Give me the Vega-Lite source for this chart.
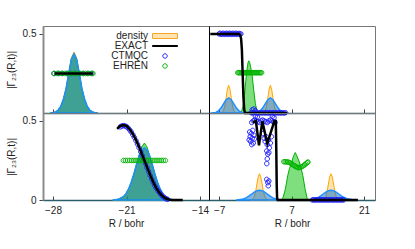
{
"$schema":"https://vega.github.io/schema/vega-lite/v6.json",
"background":"white",
"padding":{"left":5,"top":25,"right":5,"bottom":5},
"datasets":{
"tl":[
{"s":"o","x":-28.25,"y":0},{"s":"o","x":-28,"y":0.002},{"s":"o","x":-27.75,"y":0.007},{"s":"o","x":-27.5,"y":0.019},{"s":"o","x":-27.25,"y":0.044},{"s":"o","x":-27,"y":0.089},{"s":"o","x":-26.75,"y":0.157},{"s":"o","x":-26.5,"y":0.255},{"s":"o","x":-26.25,"y":0.348},{"s":"o","x":-26,"y":0.385},{"s":"o","x":-25.75,"y":0.348},{"s":"o","x":-25.5,"y":0.255},{"s":"o","x":-25.25,"y":0.157},{"s":"o","x":-25,"y":0.089},{"s":"o","x":-24.75,"y":0.044},{"s":"o","x":-24.5,"y":0.019},{"s":"o","x":-24.25,"y":0.007},{"s":"o","x":-24,"y":0.002},{"s":"o","x":-23.75,"y":0},
{"s":"g","x":-28.25,"y":0},{"s":"g","x":-28,"y":0.002},{"s":"g","x":-27.75,"y":0.007},{"s":"g","x":-27.5,"y":0.019},{"s":"g","x":-27.25,"y":0.044},{"s":"g","x":-27,"y":0.088},{"s":"g","x":-26.75,"y":0.155},{"s":"g","x":-26.5,"y":0.25},{"s":"g","x":-26.25,"y":0.34},{"s":"g","x":-26,"y":0.375},{"s":"g","x":-25.75,"y":0.34},{"s":"g","x":-25.5,"y":0.25},{"s":"g","x":-25.25,"y":0.155},{"s":"g","x":-25,"y":0.088},{"s":"g","x":-24.75,"y":0.044},{"s":"g","x":-24.5,"y":0.019},{"s":"g","x":-24.25,"y":0.007},{"s":"g","x":-24,"y":0.002},{"s":"g","x":-23.75,"y":0},
{"s":"b","x":-28.25,"y":0},{"s":"b","x":-28,"y":0.002},{"s":"b","x":-27.75,"y":0.007},{"s":"b","x":-27.5,"y":0.019},{"s":"b","x":-27.25,"y":0.044},{"s":"b","x":-27,"y":0.088},{"s":"b","x":-26.75,"y":0.155},{"s":"b","x":-26.5,"y":0.25},{"s":"b","x":-26.25,"y":0.34},{"s":"b","x":-26,"y":0.375},{"s":"b","x":-25.75,"y":0.34},{"s":"b","x":-25.5,"y":0.25},{"s":"b","x":-25.25,"y":0.155},{"s":"b","x":-25,"y":0.088},{"s":"b","x":-24.75,"y":0.044},{"s":"b","x":-24.5,"y":0.019},{"s":"b","x":-24.25,"y":0.007},{"s":"b","x":-24,"y":0.002},{"s":"b","x":-23.75,"y":0},
{"s":"CTMQC","x":-27.9,"y":0.25},{"s":"CTMQC","x":-27.5,"y":0.25},{"s":"CTMQC","x":-27.1,"y":0.25},{"s":"CTMQC","x":-26.7,"y":0.25},{"s":"CTMQC","x":-26.3,"y":0.25},{"s":"CTMQC","x":-25.9,"y":0.25},{"s":"CTMQC","x":-25.5,"y":0.25},{"s":"CTMQC","x":-25.1,"y":0.25},{"s":"CTMQC","x":-24.7,"y":0.25},{"s":"CTMQC","x":-24.3,"y":0.25},
{"s":"EHREN","x":-27.9,"y":0.25},{"s":"EHREN","x":-27.65,"y":0.25},{"s":"EHREN","x":-27.4,"y":0.25},{"s":"EHREN","x":-27.15,"y":0.25},{"s":"EHREN","x":-26.9,"y":0.25},{"s":"EHREN","x":-26.65,"y":0.25},{"s":"EHREN","x":-26.4,"y":0.25},{"s":"EHREN","x":-26.15,"y":0.25},{"s":"EHREN","x":-25.9,"y":0.25},{"s":"EHREN","x":-25.65,"y":0.25},{"s":"EHREN","x":-25.4,"y":0.25},{"s":"EHREN","x":-25.15,"y":0.25},{"s":"EHREN","x":-24.9,"y":0.25},{"s":"EHREN","x":-24.65,"y":0.25},{"s":"EHREN","x":-24.4,"y":0.25},{"s":"EHREN","x":-24.2,"y":0.25},
{"s":"EXACT","x":-27.85,"y":0.25},{"s":"EXACT","x":-24.2,"y":0.25}
],
"tr":[
{"s":"o","x":-6.65,"y":0},{"s":"o","x":-6.4,"y":0.004},{"s":"o","x":-6.15,"y":0.015},{"s":"o","x":-5.9,"y":0.044},{"s":"o","x":-5.65,"y":0.094},{"s":"o","x":-5.4,"y":0.15},{"s":"o","x":-5.15,"y":0.175},{"s":"o","x":-4.9,"y":0.15},{"s":"o","x":-4.65,"y":0.094},{"s":"o","x":-4.4,"y":0.044},{"s":"o","x":-4.15,"y":0.015},{"s":"o","x":-3.9,"y":0.004},{"s":"o","x":-3.65,"y":0},{"s":"o","x":1.4,"y":0},{"s":"o","x":1.65,"y":0.004},{"s":"o","x":1.9,"y":0.015},{"s":"o","x":2.15,"y":0.044},{"s":"o","x":2.4,"y":0.094},{"s":"o","x":2.65,"y":0.15},{"s":"o","x":2.9,"y":0.175},{"s":"o","x":3.15,"y":0.15},{"s":"o","x":3.4,"y":0.094},{"s":"o","x":3.65,"y":0.044},{"s":"o","x":3.9,"y":0.015},{"s":"o","x":4.15,"y":0.004},{"s":"o","x":4.4,"y":0},
{"s":"g","x":-2.75,"y":0},{"s":"g","x":-2.4,"y":0.04},{"s":"g","x":-2.1,"y":0.11},{"s":"g","x":-1.85,"y":0.2},{"s":"g","x":-1.6,"y":0.28},{"s":"g","x":-1.4,"y":0.32},{"s":"g","x":-1.27,"y":0.33},{"s":"g","x":-1.1,"y":0.32},{"s":"g","x":-0.9,"y":0.29},{"s":"g","x":-0.63,"y":0.24},{"s":"g","x":-0.3,"y":0.14},{"s":"g","x":0,"y":0.06},{"s":"g","x":0.4,"y":0},
{"s":"b","x":-8.65,"y":0},{"s":"b","x":-8.15,"y":0.001},{"s":"b","x":-7.65,"y":0.004},{"s":"b","x":-7.15,"y":0.013},{"s":"b","x":-6.65,"y":0.031},{"s":"b","x":-6.15,"y":0.058},{"s":"b","x":-5.65,"y":0.084},{"s":"b","x":-5.15,"y":0.095},{"s":"b","x":-4.65,"y":0.084},{"s":"b","x":-4.15,"y":0.058},{"s":"b","x":-3.65,"y":0.031},{"s":"b","x":-3.15,"y":0.013},{"s":"b","x":-2.65,"y":0.004},{"s":"b","x":-2.15,"y":0.001},{"s":"b","x":-1.65,"y":0},{"s":"b","x":-0.6,"y":0},{"s":"b","x":-0.1,"y":0.001},{"s":"b","x":0.4,"y":0.004},{"s":"b","x":0.9,"y":0.013},{"s":"b","x":1.4,"y":0.031},{"s":"b","x":1.9,"y":0.058},{"s":"b","x":2.4,"y":0.084},{"s":"b","x":2.9,"y":0.095},{"s":"b","x":3.4,"y":0.084},{"s":"b","x":3.9,"y":0.058},{"s":"b","x":4.4,"y":0.031},{"s":"b","x":4.9,"y":0.013},{"s":"b","x":5.4,"y":0.004},{"s":"b","x":5.9,"y":0.001},{"s":"b","x":6.4,"y":0},
{"s":"CTMQC","x":-7.0,"y":0.5},{"s":"CTMQC","x":-6.8,"y":0.504},{"s":"CTMQC","x":-6.6,"y":0.497},{"s":"CTMQC","x":-6.4,"y":0.5},{"s":"CTMQC","x":-6.2,"y":0.504},{"s":"CTMQC","x":-6.0,"y":0.497},{"s":"CTMQC","x":-5.8,"y":0.5},{"s":"CTMQC","x":-5.6,"y":0.504},{"s":"CTMQC","x":-5.4,"y":0.497},{"s":"CTMQC","x":-5.2,"y":0.5},{"s":"CTMQC","x":-5.0,"y":0.504},{"s":"CTMQC","x":-4.8,"y":0.497},{"s":"CTMQC","x":-4.6,"y":0.5},{"s":"CTMQC","x":-4.4,"y":0.504},{"s":"CTMQC","x":-4.2,"y":0.497},{"s":"CTMQC","x":-4.0,"y":0.5},{"s":"CTMQC","x":-3.8,"y":0.504},{"s":"CTMQC","x":-3.6,"y":0.497},{"s":"CTMQC","x":-3.4,"y":0.5},{"s":"CTMQC","x":-3.2,"y":0.503},{"s":"CTMQC","x":-3.0,"y":0.498},{"s":"CTMQC","x":-2.8,"y":0.5},
{"s":"CTMQC","x":-0.6,"y":0.02},{"s":"CTMQC","x":-0.3,"y":0.025},{"s":"CTMQC","x":0,"y":0.015},
{"s":"CTMQC","x":-0.8,"y":0.002},{"s":"CTMQC","x":-0.5,"y":0},{"s":"CTMQC","x":-0.2,"y":0.003},{"s":"CTMQC","x":0.1,"y":0},{"s":"CTMQC","x":0.4,"y":0.002},{"s":"CTMQC","x":0.7,"y":0},{"s":"CTMQC","x":1.0,"y":0.002},{"s":"CTMQC","x":1.3,"y":0},{"s":"CTMQC","x":1.6,"y":0.002},{"s":"CTMQC","x":1.9,"y":0},{"s":"CTMQC","x":2.2,"y":0.002},{"s":"CTMQC","x":2.5,"y":0},{"s":"CTMQC","x":2.8,"y":0.002},{"s":"CTMQC","x":3.1,"y":0},{"s":"CTMQC","x":3.4,"y":0.002},{"s":"CTMQC","x":3.7,"y":0},{"s":"CTMQC","x":4.0,"y":0.002},{"s":"CTMQC","x":4.3,"y":0},{"s":"CTMQC","x":4.6,"y":0.002},{"s":"CTMQC","x":4.9,"y":0},{"s":"CTMQC","x":5.2,"y":0.002},{"s":"CTMQC","x":5.5,"y":0},{"s":"CTMQC","x":5.8,"y":0.002},
{"s":"EHREN","x":-3.4,"y":0.255},{"s":"EHREN","x":-3.2,"y":0.255},{"s":"EHREN","x":-3.0,"y":0.255},{"s":"EHREN","x":-2.8,"y":0.255},{"s":"EHREN","x":-2.6,"y":0.255},{"s":"EHREN","x":-2.4,"y":0.255},{"s":"EHREN","x":-2.2,"y":0.255},{"s":"EHREN","x":-2.0,"y":0.255},{"s":"EHREN","x":-1.8,"y":0.255},{"s":"EHREN","x":-1.6,"y":0.255},{"s":"EHREN","x":-1.4,"y":0.255},{"s":"EHREN","x":-1.2,"y":0.255},{"s":"EHREN","x":-1.0,"y":0.255},{"s":"EHREN","x":-0.8,"y":0.255},{"s":"EHREN","x":-0.6,"y":0.255},{"s":"EHREN","x":-0.4,"y":0.255},{"s":"EHREN","x":-0.2,"y":0.255},{"s":"EHREN","x":0,"y":0.255},{"s":"EHREN","x":0.2,"y":0.255},{"s":"EHREN","x":0.4,"y":0.255},{"s":"EHREN","x":0.6,"y":0.255},{"s":"EHREN","x":0.8,"y":0.255},{"s":"EHREN","x":1.0,"y":0.255},{"s":"EHREN","x":1.2,"y":0.255},
{"s":"EXACT","x":-8.7,"y":0.5},{"s":"EXACT","x":-3.2,"y":0.5},{"s":"EXACT","x":-2.95,"y":0.495},{"s":"EXACT","x":-2.75,"y":0.47},{"s":"EXACT","x":-2.6,"y":0.4},{"s":"EXACT","x":-2.45,"y":0.25},{"s":"EXACT","x":-2.3,"y":0.1},{"s":"EXACT","x":-2.15,"y":0.02},{"s":"EXACT","x":-2.0,"y":0},{"s":"EXACT","x":6.1,"y":0}
],
"bl":[
{"s":"o","x":-22.3,"y":0},{"s":"o","x":-21.8,"y":0.004},{"s":"o","x":-21.3,"y":0.02},{"s":"o","x":-21.05,"y":0.039},{"s":"o","x":-20.8,"y":0.069},{"s":"o","x":-20.55,"y":0.11},{"s":"o","x":-20.3,"y":0.162},{"s":"o","x":-20.05,"y":0.22},{"s":"o","x":-19.8,"y":0.273},{"s":"o","x":-19.55,"y":0.31},{"s":"o","x":-19.3,"y":0.325},{"s":"o","x":-19.05,"y":0.31},{"s":"o","x":-18.8,"y":0.273},{"s":"o","x":-18.55,"y":0.22},{"s":"o","x":-18.3,"y":0.162},{"s":"o","x":-18.05,"y":0.11},{"s":"o","x":-17.8,"y":0.069},{"s":"o","x":-17.55,"y":0.039},{"s":"o","x":-17.3,"y":0.02},{"s":"o","x":-16.8,"y":0.004},{"s":"o","x":-16.3,"y":0},
{"s":"g","x":-22.3,"y":0},{"s":"g","x":-21.8,"y":0.004},{"s":"g","x":-21.3,"y":0.021},{"s":"g","x":-21.05,"y":0.04},{"s":"g","x":-20.8,"y":0.07},{"s":"g","x":-20.55,"y":0.112},{"s":"g","x":-20.3,"y":0.165},{"s":"g","x":-20.05,"y":0.224},{"s":"g","x":-19.8,"y":0.285},{"s":"g","x":-19.55,"y":0.335},{"s":"g","x":-19.3,"y":0.36},{"s":"g","x":-19.05,"y":0.335},{"s":"g","x":-18.8,"y":0.28},{"s":"g","x":-18.55,"y":0.224},{"s":"g","x":-18.3,"y":0.165},{"s":"g","x":-18.05,"y":0.112},{"s":"g","x":-17.8,"y":0.07},{"s":"g","x":-17.55,"y":0.04},{"s":"g","x":-17.3,"y":0.021},{"s":"g","x":-16.8,"y":0.004},{"s":"g","x":-16.3,"y":0},
{"s":"b","x":-22.3,"y":0},{"s":"b","x":-21.8,"y":0.004},{"s":"b","x":-21.3,"y":0.021},{"s":"b","x":-21.05,"y":0.04},{"s":"b","x":-20.8,"y":0.07},{"s":"b","x":-20.55,"y":0.112},{"s":"b","x":-20.3,"y":0.165},{"s":"b","x":-20.05,"y":0.224},{"s":"b","x":-19.8,"y":0.278},{"s":"b","x":-19.55,"y":0.316},{"s":"b","x":-19.3,"y":0.33},{"s":"b","x":-19.05,"y":0.316},{"s":"b","x":-18.8,"y":0.278},{"s":"b","x":-18.55,"y":0.224},{"s":"b","x":-18.3,"y":0.165},{"s":"b","x":-18.05,"y":0.112},{"s":"b","x":-17.8,"y":0.07},{"s":"b","x":-17.55,"y":0.04},{"s":"b","x":-17.3,"y":0.021},{"s":"b","x":-16.8,"y":0.004},{"s":"b","x":-16.3,"y":0},
{"s":"CTMQC","x":-21.6,"y":0.462},{"s":"CTMQC","x":-21.45,"y":0.468},{"s":"CTMQC","x":-21.3,"y":0.47},{"s":"CTMQC","x":-21.15,"y":0.468},{"s":"CTMQC","x":-21.0,"y":0.464},{"s":"CTMQC","x":-20.85,"y":0.455},{"s":"CTMQC","x":-20.7,"y":0.443},{"s":"CTMQC","x":-20.55,"y":0.43},{"s":"CTMQC","x":-20.4,"y":0.413},{"s":"CTMQC","x":-20.25,"y":0.395},{"s":"CTMQC","x":-20.1,"y":0.375},{"s":"CTMQC","x":-19.95,"y":0.353},{"s":"CTMQC","x":-19.8,"y":0.33},{"s":"CTMQC","x":-19.65,"y":0.305},{"s":"CTMQC","x":-19.5,"y":0.28},{"s":"CTMQC","x":-19.35,"y":0.255},{"s":"CTMQC","x":-19.2,"y":0.232},{"s":"CTMQC","x":-19.05,"y":0.205},{"s":"CTMQC","x":-18.9,"y":0.18},{"s":"CTMQC","x":-18.75,"y":0.155},{"s":"CTMQC","x":-18.6,"y":0.132},{"s":"CTMQC","x":-18.45,"y":0.11},{"s":"CTMQC","x":-18.3,"y":0.09},{"s":"CTMQC","x":-18.15,"y":0.073},{"s":"CTMQC","x":-18.0,"y":0.058},{"s":"CTMQC","x":-17.85,"y":0.045},{"s":"CTMQC","x":-17.7,"y":0.033},{"s":"CTMQC","x":-17.55,"y":0.023},{"s":"CTMQC","x":-17.4,"y":0.015},{"s":"CTMQC","x":-17.25,"y":0.008},{"s":"CTMQC","x":-17.1,"y":0.004},
{"s":"EHREN","x":-21.3,"y":0.25},{"s":"EHREN","x":-21.1,"y":0.25},{"s":"EHREN","x":-20.9,"y":0.25},{"s":"EHREN","x":-20.7,"y":0.25},{"s":"EHREN","x":-20.5,"y":0.25},{"s":"EHREN","x":-20.3,"y":0.25},{"s":"EHREN","x":-20.1,"y":0.25},{"s":"EHREN","x":-19.9,"y":0.25},{"s":"EHREN","x":-19.7,"y":0.25},{"s":"EHREN","x":-19.5,"y":0.25},{"s":"EHREN","x":-19.3,"y":0.25},{"s":"EHREN","x":-19.1,"y":0.25},{"s":"EHREN","x":-18.9,"y":0.25},{"s":"EHREN","x":-18.7,"y":0.25},{"s":"EHREN","x":-18.5,"y":0.25},{"s":"EHREN","x":-18.3,"y":0.25},{"s":"EHREN","x":-18.1,"y":0.25},{"s":"EHREN","x":-17.9,"y":0.25},{"s":"EHREN","x":-17.7,"y":0.25},{"s":"EHREN","x":-17.5,"y":0.25},{"s":"EHREN","x":-17.3,"y":0.25},
{"s":"EXACT","x":-21.9,"y":0.45},{"s":"EXACT","x":-21.6,"y":0.468},{"s":"EXACT","x":-21.3,"y":0.474},{"s":"EXACT","x":-21.0,"y":0.468},{"s":"EXACT","x":-20.7,"y":0.447},{"s":"EXACT","x":-20.4,"y":0.418},{"s":"EXACT","x":-20.1,"y":0.38},{"s":"EXACT","x":-19.8,"y":0.335},{"s":"EXACT","x":-19.5,"y":0.285},{"s":"EXACT","x":-19.3,"y":0.25},{"s":"EXACT","x":-19.0,"y":0.2},{"s":"EXACT","x":-18.7,"y":0.15},{"s":"EXACT","x":-18.4,"y":0.105},{"s":"EXACT","x":-18.1,"y":0.068},{"s":"EXACT","x":-17.8,"y":0.04},{"s":"EXACT","x":-17.5,"y":0.02},{"s":"EXACT","x":-17.2,"y":0.008},{"s":"EXACT","x":-16.9,"y":0.002},{"s":"EXACT","x":-16.6,"y":0},{"s":"EXACT","x":-15.65,"y":0}
],
"br":[
{"s":"o","x":-0.95,"y":0},{"s":"o","x":-0.7,"y":0.002},{"s":"o","x":-0.45,"y":0.007},{"s":"o","x":-0.2,"y":0.022},{"s":"o","x":0.05,"y":0.054},{"s":"o","x":0.3,"y":0.101},{"s":"o","x":0.55,"y":0.146},{"s":"o","x":0.8,"y":0.166},{"s":"o","x":1.05,"y":0.146},{"s":"o","x":1.3,"y":0.101},{"s":"o","x":1.55,"y":0.054},{"s":"o","x":1.8,"y":0.022},{"s":"o","x":2.05,"y":0.007},{"s":"o","x":2.3,"y":0.002},{"s":"o","x":2.55,"y":0},
{"s":"o","x":12.85,"y":0},{"s":"o","x":13.1,"y":0.002},{"s":"o","x":13.35,"y":0.007},{"s":"o","x":13.6,"y":0.022},{"s":"o","x":13.85,"y":0.054},{"s":"o","x":14.1,"y":0.101},{"s":"o","x":14.35,"y":0.146},{"s":"o","x":14.6,"y":0.166},{"s":"o","x":14.85,"y":0.146},{"s":"o","x":15.1,"y":0.101},{"s":"o","x":15.35,"y":0.054},{"s":"o","x":15.6,"y":0.022},{"s":"o","x":15.85,"y":0.007},{"s":"o","x":16.1,"y":0.002},{"s":"o","x":16.35,"y":0},
{"s":"g","x":4.9,"y":0},{"s":"g","x":5.3,"y":0.01},{"s":"g","x":5.8,"y":0.07},{"s":"g","x":6.26,"y":0.156},{"s":"g","x":6.6,"y":0.2},{"s":"g","x":7.03,"y":0.24},{"s":"g","x":7.4,"y":0.28},{"s":"g","x":7.7,"y":0.3},{"s":"g","x":8.0,"y":0.28},{"s":"g","x":8.5,"y":0.24},{"s":"g","x":8.9,"y":0.19},{"s":"g","x":9.16,"y":0.156},{"s":"g","x":9.6,"y":0.07},{"s":"g","x":10.0,"y":0.01},{"s":"g","x":10.2,"y":0},
{"s":"b","x":-3.7,"y":0},{"s":"b","x":-3.2,"y":0.002},{"s":"b","x":-2.7,"y":0.004},{"s":"b","x":-2.2,"y":0.008},{"s":"b","x":-1.7,"y":0.015},{"s":"b","x":-1.2,"y":0.026},{"s":"b","x":-0.7,"y":0.038},{"s":"b","x":-0.2,"y":0.05},{"s":"b","x":0.3,"y":0.059},{"s":"b","x":0.8,"y":0.062},{"s":"b","x":1.3,"y":0.059},{"s":"b","x":1.8,"y":0.05},{"s":"b","x":2.3,"y":0.038},{"s":"b","x":2.8,"y":0.026},{"s":"b","x":3.3,"y":0.015},{"s":"b","x":3.8,"y":0.008},{"s":"b","x":4.3,"y":0.004},{"s":"b","x":4.8,"y":0.002},{"s":"b","x":5.3,"y":0},
{"s":"b","x":10.1,"y":0},{"s":"b","x":10.6,"y":0.002},{"s":"b","x":11.1,"y":0.004},{"s":"b","x":11.6,"y":0.008},{"s":"b","x":12.1,"y":0.015},{"s":"b","x":12.6,"y":0.026},{"s":"b","x":13.1,"y":0.038},{"s":"b","x":13.6,"y":0.05},{"s":"b","x":14.1,"y":0.059},{"s":"b","x":14.6,"y":0.062},{"s":"b","x":15.1,"y":0.059},{"s":"b","x":15.6,"y":0.05},{"s":"b","x":16.1,"y":0.038},{"s":"b","x":16.6,"y":0.026},{"s":"b","x":17.1,"y":0.017},{"s":"b","x":17.6,"y":0.01},{"s":"b","x":18.1,"y":0.006},{"s":"b","x":18.6,"y":0.003},{"s":"b","x":19.1,"y":0.001},{"s":"b","x":19.6,"y":0},
{"s":"CTMQC","x":-0.7,"y":0.49},{"s":"CTMQC","x":-0.4,"y":0.5},{"s":"CTMQC","x":-0.1,"y":0.505},{"s":"CTMQC","x":0.2,"y":0.5},{"s":"CTMQC","x":0.5,"y":0.495},{"s":"CTMQC","x":0.8,"y":0.49},{"s":"CTMQC","x":1.1,"y":0.5},{"s":"CTMQC","x":1.4,"y":0.505},{"s":"CTMQC","x":1.7,"y":0.5},{"s":"CTMQC","x":2.0,"y":0.495},{"s":"CTMQC","x":2.3,"y":0.49},{"s":"CTMQC","x":2.6,"y":0.5},{"s":"CTMQC","x":2.9,"y":0.505},{"s":"CTMQC","x":3.2,"y":0.5},{"s":"CTMQC","x":3.5,"y":0.495},{"s":"CTMQC","x":3.8,"y":0.49},
{"s":"CTMQC","x":0.0,"y":0.53},{"s":"CTMQC","x":0.4,"y":0.525},{"s":"CTMQC","x":3.3,"y":0.53},{"s":"CTMQC","x":3.6,"y":0.52},
{"s":"CTMQC","x":-1.1,"y":0.43},{"s":"CTMQC","x":-1.0,"y":0.4},{"s":"CTMQC","x":-0.9,"y":0.37},{"s":"CTMQC","x":-0.8,"y":0.42},{"s":"CTMQC","x":-0.7,"y":0.35},{"s":"CTMQC","x":-0.6,"y":0.39},{"s":"CTMQC","x":-0.5,"y":0.44},{"s":"CTMQC","x":-0.4,"y":0.36},{"s":"CTMQC","x":-0.3,"y":0.41},{"s":"CTMQC","x":-1.2,"y":0.38},{"s":"CTMQC","x":-0.2,"y":0.385},
{"s":"CTMQC","x":1.5,"y":0.42},{"s":"CTMQC","x":1.7,"y":0.39},{"s":"CTMQC","x":1.9,"y":0.37},{"s":"CTMQC","x":2.1,"y":0.4},{"s":"CTMQC","x":2.3,"y":0.35},{"s":"CTMQC","x":2.5,"y":0.38},{"s":"CTMQC","x":2.7,"y":0.33},{"s":"CTMQC","x":2.9,"y":0.36},{"s":"CTMQC","x":3.1,"y":0.4},{"s":"CTMQC","x":2.2,"y":0.31},{"s":"CTMQC","x":2.4,"y":0.29},{"s":"CTMQC","x":2.3,"y":0.26},{"s":"CTMQC","x":2.2,"y":0.23},{"s":"CTMQC","x":2.6,"y":0.3},
{"s":"CTMQC","x":2.2,"y":0.13},{"s":"CTMQC","x":2.4,"y":0.11},{"s":"CTMQC","x":2.5,"y":0.09},{"s":"CTMQC","x":2.6,"y":0.12},
{"s":"CTMQC","x":11.0,"y":0},{"s":"CTMQC","x":11.25,"y":0.002},{"s":"CTMQC","x":11.5,"y":0},{"s":"CTMQC","x":11.75,"y":0.002},{"s":"CTMQC","x":12.0,"y":0},{"s":"CTMQC","x":12.25,"y":0.002},{"s":"CTMQC","x":12.5,"y":0},{"s":"CTMQC","x":12.75,"y":0.002},{"s":"CTMQC","x":13.0,"y":0},{"s":"CTMQC","x":13.25,"y":0.002},{"s":"CTMQC","x":13.5,"y":0},{"s":"CTMQC","x":13.75,"y":0.002},{"s":"CTMQC","x":14.0,"y":0},{"s":"CTMQC","x":14.25,"y":0.002},{"s":"CTMQC","x":14.5,"y":0},{"s":"CTMQC","x":14.75,"y":0.002},{"s":"CTMQC","x":15.0,"y":0},{"s":"CTMQC","x":15.25,"y":0.002},{"s":"CTMQC","x":15.5,"y":0},{"s":"CTMQC","x":15.75,"y":0.002},{"s":"CTMQC","x":16.0,"y":0},{"s":"CTMQC","x":16.25,"y":0.002},{"s":"CTMQC","x":16.5,"y":0},{"s":"CTMQC","x":16.75,"y":0.002},{"s":"CTMQC","x":17.0,"y":0},
{"s":"EHREN","x":5.5,"y":0.242},{"s":"EHREN","x":5.75,"y":0.242},{"s":"EHREN","x":6.0,"y":0.241},{"s":"EHREN","x":6.25,"y":0.24},{"s":"EHREN","x":6.5,"y":0.238},{"s":"EHREN","x":6.75,"y":0.234},{"s":"EHREN","x":7.0,"y":0.229},{"s":"EHREN","x":7.25,"y":0.223},{"s":"EHREN","x":7.5,"y":0.217},{"s":"EHREN","x":7.75,"y":0.212},{"s":"EHREN","x":8.0,"y":0.208},{"s":"EHREN","x":8.25,"y":0.205},{"s":"EHREN","x":8.5,"y":0.205},{"s":"EHREN","x":8.75,"y":0.207},{"s":"EHREN","x":9.0,"y":0.211},{"s":"EHREN","x":9.25,"y":0.216},{"s":"EHREN","x":9.5,"y":0.222},{"s":"EHREN","x":9.75,"y":0.229},{"s":"EHREN","x":10.0,"y":0.236},{"s":"EHREN","x":10.15,"y":0.24},
{"s":"EXACT","x":-0.5,"y":0.49},{"s":"EXACT","x":0.1,"y":0.5},{"s":"EXACT","x":0.7,"y":0.345},{"s":"EXACT","x":1.35,"y":0.497},{"s":"EXACT","x":2.3,"y":0.357},{"s":"EXACT","x":3.68,"y":0.5},{"s":"EXACT","x":3.95,"y":0.5},{"s":"EXACT","x":4.05,"y":0.3},{"s":"EXACT","x":4.12,"y":0.1},{"s":"EXACT","x":4.2,"y":0.01},{"s":"EXACT","x":4.3,"y":0},{"s":"EXACT","x":19.8,"y":0}
]
},
"columns":2,
"spacing":0,
"bounds":"flush",
"concat":[
{
"data":{"name":"tl"},"width":166,"height":87,
"encoding":{
"x":{"field":"x","type":"quantitative","scale":{"domain":[-28.95,-13.15],"nice":false,"zero":false},"axis":{"values":[-28,-21,-14],"labels":false,"tickSize":-4,"title":null,"domainColor":"#2b5d6b","domainWidth":1.5}},
"y":{"field":"y","type":"quantitative","scale":{"domain":[0,0.55],"nice":false},"axis":{"values":[0.5],"format":".1~f","title":"|Γ₂₃(R,t)|","tickSize":4,"labelPadding":3,"titlePadding":6,"domainColor":"#8c8c8c","domainWidth":2}}
},
"layer":[
{"transform":[{"filter":"datum.s=='o'"}],"mark":{"type":"area","fill":"#ffa500","fillOpacity":0.3,"stroke":"#ffa500","strokeWidth":1},"encoding":{}},
{"transform":[{"filter":"datum.s=='g'"}],"mark":{"type":"area","fill":"#00c000","fillOpacity":0.5,"stroke":"#00b000","strokeWidth":1},"encoding":{}},
{"transform":[{"filter":"datum.s=='b'"}],"mark":{"type":"area","fill":"#0070d0","fillOpacity":0.5,"stroke":"#1e90ff","strokeWidth":1.5},"encoding":{}},
{"transform":[{"filter":"datum.s=='CTMQC'||datum.s=='EHREN'"}],"mark":{"type":"point","filled":true,"opacity":1,"size":36,"strokeWidth":1},
"encoding":{
"shape":{"field":"s","type":"nominal","scale":{"domain":["density","EXACT","CTMQC","EHREN"],"range":["M-4.17,-0.83L4.17,-0.83L4.17,0.83L-4.17,0.83Z","M-4.17,-0.17L4.17,-0.17L4.17,0.17L-4.17,0.17Z","M0.75,0A0.75,0.75,0,1,1,-0.75,0A0.75,0.75,0,1,1,0.75,0Z","M0.75,0A0.75,0.75,0,1,1,-0.75,0A0.75,0.75,0,1,1,0.75,0Z"]},"legend":{"title":null,"orient":"none","legendX":117,"legendY":5,"labelAlign":"right","labelOffset":-22,"symbolSize":36,"symbolStrokeWidth":1,"rowPadding":-1,"padding":0}},
"stroke":{"field":"s","type":"nominal","scale":{"domain":["density","EXACT","CTMQC","EHREN"],"range":["#f5a623","#000000","#2222ff","#00b400"]},"legend":{"title":null,"orient":"none","legendX":117,"legendY":5,"labelAlign":"right","labelOffset":-22,"symbolSize":36,"symbolStrokeWidth":1,"rowPadding":-1,"padding":0}},
"fill":{"field":"s","type":"nominal","scale":{"domain":["density","EXACT","CTMQC","EHREN"],"range":["#ffe4b3","#000000","transparent","transparent"]},"legend":{"title":null,"orient":"none","legendX":117,"legendY":5,"labelAlign":"right","labelOffset":-22,"symbolSize":36,"symbolStrokeWidth":1,"rowPadding":-1,"padding":0}}
}},
{"transform":[{"filter":"datum.s=='EXACT'"}],"mark":{"type":"line","color":"#000000","strokeWidth":2.5},"encoding":{}}
]
},
{
"data":{"name":"tr"},"width":166,"height":87,
"encoding":{
"x":{"field":"x","type":"quantitative","scale":{"domain":[-8.95,23.1],"nice":false,"zero":false},"axis":{"values":[-7,7,21],"labels":false,"tickSize":-4,"title":null,"domainColor":"#2b5d6b","domainWidth":1.5}},
"y":{"field":"y","type":"quantitative","scale":{"domain":[0,0.55],"nice":false},"axis":{"labels":false,"ticks":false,"title":null,"domainColor":"#000000","domainWidth":1}}
},
"layer":[
{"transform":[{"filter":"datum.s=='o'"}],"mark":{"type":"area","fill":"#ffa500","fillOpacity":0.3,"stroke":"#ffa500","strokeWidth":1},"encoding":{}},
{"transform":[{"filter":"datum.s=='g'"}],"mark":{"type":"area","fill":"#00c000","fillOpacity":0.5,"stroke":"#00b000","strokeWidth":1},"encoding":{}},
{"transform":[{"filter":"datum.s=='b'"}],"mark":{"type":"area","fill":"#0070d0","fillOpacity":0.5,"stroke":"#1e90ff","strokeWidth":1.5},"encoding":{}},
{"transform":[{"filter":"datum.s=='CTMQC'||datum.s=='EHREN'"}],"mark":{"type":"point","filled":true,"opacity":1,"size":36,"strokeWidth":1},
"encoding":{
"shape":{"field":"s","type":"nominal","legend":null},
"stroke":{"field":"s","type":"nominal","legend":null},
"fill":{"field":"s","type":"nominal","legend":null}
}},
{"transform":[{"filter":"datum.s=='EXACT'"}],"mark":{"type":"line","color":"#000000","strokeWidth":2.5},"encoding":{}}
]
},
{
"data":{"name":"bl"},"width":166,"height":87,
"encoding":{
"x":{"field":"x","type":"quantitative","scale":{"domain":[-28.95,-13.15],"nice":false,"zero":false},"axis":{"values":[-28,-21,-14],"title":"R / bohr","tickSize":-4,"labelPadding":9,"titlePadding":3,"domainColor":"#2b5d6b","domainWidth":1.5}},
"y":{"field":"y","type":"quantitative","scale":{"domain":[0,0.55],"nice":false},"axis":{"values":[0,0.5],"format":".1~f","title":"|Γ₂₃(R,t)|","tickSize":4,"labelPadding":3,"titlePadding":6,"domainColor":"#8c8c8c","domainWidth":2}}
},
"layer":[
{"transform":[{"filter":"datum.s=='o'"}],"mark":{"type":"area","fill":"#ffa500","fillOpacity":0.3,"stroke":"#ffa500","strokeWidth":1},"encoding":{}},
{"transform":[{"filter":"datum.s=='g'"}],"mark":{"type":"area","fill":"#00c000","fillOpacity":0.5,"stroke":"#00b000","strokeWidth":1},"encoding":{}},
{"transform":[{"filter":"datum.s=='b'"}],"mark":{"type":"area","fill":"#0070d0","fillOpacity":0.5,"stroke":"#1e90ff","strokeWidth":1.5},"encoding":{}},
{"transform":[{"filter":"datum.s=='CTMQC'||datum.s=='EHREN'"}],"mark":{"type":"point","filled":true,"opacity":1,"size":36,"strokeWidth":1},
"encoding":{
"shape":{"field":"s","type":"nominal","legend":null},
"stroke":{"field":"s","type":"nominal","legend":null},
"fill":{"field":"s","type":"nominal","legend":null}
}},
{"transform":[{"filter":"datum.s=='EXACT'"}],"mark":{"type":"line","color":"#000000","strokeWidth":2.5},"encoding":{}}
]
},
{
"data":{"name":"br"},"width":166,"height":87,
"encoding":{
"x":{"field":"x","type":"quantitative","scale":{"domain":[-8.95,23.1],"nice":false,"zero":false},"axis":{"values":[-7,7,21],"title":"R / bohr","tickSize":-4,"labelPadding":9,"titlePadding":3,"domainColor":"#2b5d6b","domainWidth":1.5}},
"y":{"field":"y","type":"quantitative","scale":{"domain":[0,0.55],"nice":false},"axis":{"labels":false,"ticks":false,"title":null,"domainColor":"#000000","domainWidth":1}}
},
"layer":[
{"transform":[{"filter":"datum.s=='o'"}],"mark":{"type":"area","fill":"#ffa500","fillOpacity":0.3,"stroke":"#ffa500","strokeWidth":1},"encoding":{}},
{"transform":[{"filter":"datum.s=='g'"}],"mark":{"type":"area","fill":"#00c000","fillOpacity":0.5,"stroke":"#00b000","strokeWidth":1},"encoding":{}},
{"transform":[{"filter":"datum.s=='b'"}],"mark":{"type":"area","fill":"#0070d0","fillOpacity":0.5,"stroke":"#1e90ff","strokeWidth":1.5},"encoding":{}},
{"transform":[{"filter":"datum.s=='CTMQC'||datum.s=='EHREN'"}],"mark":{"type":"point","filled":true,"opacity":1,"size":36,"strokeWidth":1},
"encoding":{
"shape":{"field":"s","type":"nominal","legend":null},
"stroke":{"field":"s","type":"nominal","legend":null},
"fill":{"field":"s","type":"nominal","legend":null}
}},
{"transform":[{"filter":"datum.s=='EXACT'"}],"mark":{"type":"line","color":"#000000","strokeWidth":2.5},"encoding":{}}
]
}
],
"config":{
"view":{"stroke":"#777777","strokeWidth":1},
"axis":{"grid":false,"labelFont":"Liberation Sans","labelFontSize":10,"labelColor":"#222222","titleFont":"Liberation Sans","titleFontSize":10,"titleFontWeight":"normal","titleColor":"#222222","tickColor":"#444444"},
"legend":{"labelFont":"Liberation Sans","labelFontSize":10,"labelColor":"#222222"}
}
}
